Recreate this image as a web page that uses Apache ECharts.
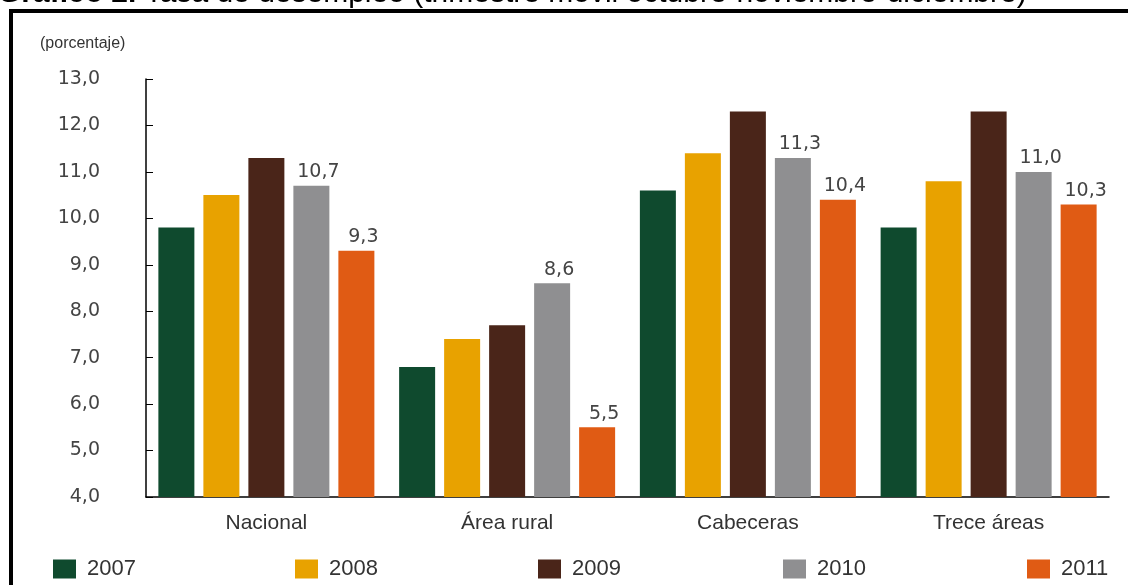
<!DOCTYPE html>
<html>
<head>
<meta charset="utf-8">
<script src="https://cdn.jsdelivr.net/npm/echarts@6/dist/echarts.min.js"></script>
<style>
html,body{margin:0;padding:0;background:#fff;}
#chart{width:1128px;height:585px;}
</style>
</head>
<body>
<div id="chart"></div>
<script>
const categories = ['Nacional', 'Área rural', 'Cabeceras', 'Trece áreas'];
const years = ['2007', '2008', '2009', '2010', '2011'];
const v2007 = [9.8, 6.8, 10.6, 9.8];
const v2008 = [10.5, 7.4, 11.4, 10.8];
const v2009 = [11.3, 7.7, 12.3, 12.3];
const v2010 = [10.7, 8.6, 11.3, 11.0];
const v2011 = [9.3, 5.5, 10.4, 10.3];
const yTicks = [4, 5, 6, 7, 8, 9, 10, 11, 12, 13];
const titleText = 'Tasa de desempleo (trimestre móvil octubre-noviembre-diciembre)';
const unitText = '(porcentaje)';

const values = [v2007, v2008, v2009, v2010, v2011];
const colors = ['#0f4a2e', '#e8a200', '#4a2519', '#8f8f91', '#e05b14'];
const labeled = [false, false, false, true, true];
const legendLeft = [48, 290, 533, 778, 1022];
const fmt = v => v.toFixed(1).replace('.', ',');

const chart = echarts.init(document.getElementById('chart'));
chart.setOption({
  animation: false,
  backgroundColor: '#fff',
  grid: {left: 146, right: 19, top: 79, bottom: 88, containLabel: false},
  legend: years.map((y, i) => ({
    top: 553, left: legendLeft[i],
    itemWidth: 23, itemHeight: 19,
    data: [y],
    icon: 'rect',
    selectedMode: false,
    textStyle: {fontFamily: 'Liberation Sans', fontSize: 22, color: '#333', padding: [0, 0, 0, 6]}
  })),
  xAxis: {
    type: 'category',
    data: categories,
    axisLine: {lineStyle: {color: '#000', width: 1.5}},
    axisTick: {inside: true, length: 5, lineStyle: {color: '#000'}},
    axisLabel: {margin: 16, fontFamily: 'Liberation Sans', fontSize: 21, color: '#333'}
  },
  yAxis: {
    type: 'value', min: yTicks[0], max: yTicks[yTicks.length - 1], interval: 1,
    splitLine: {show: false},
    axisLine: {show: true, lineStyle: {color: '#000', width: 1.5}},
    axisTick: {show: true, inside: true, length: 7, lineStyle: {color: '#000'}},
    axisLabel: {margin: 46, fontFamily: 'DejaVu Sans', fontSize: 19, color: '#444',
      formatter: v => fmt(v)}
  },
  series: years.map((y, i) => ({
    name: y,
    type: 'bar',
    data: values[i],
    barWidth: 36,
    barGap: '25%',
    itemStyle: {color: colors[i]},
    label: {
      show: labeled[i], position: 'top', offset: [7, 0], distance: 4,
      fontFamily: 'DejaVu Sans', fontSize: 19, color: '#444',
      formatter: p => fmt(p.value)
    }
  })),
  graphic: [
    {type: 'rect', shape: {x: 10, y: 9, width: 1130, height: 4}, style: {fill: '#000'}},
    {type: 'rect', shape: {x: 9, y: 9, width: 4, height: 590}, style: {fill: '#000'}},
    {type: 'text', left: 40, top: 36,
      style: {text: unitText, fontFamily: 'Liberation Sans', fontSize: 16, fill: '#333'}},
    {type: 'text', x: -2, y: -6,
      style: {
        text: '{b|Gráfico 2.} ' + titleText,
        verticalAlign: 'middle',
        fontFamily: 'Liberation Sans', fontSize: 30, fill: '#000',
        rich: {b: {fontWeight: 'bold', fontFamily: 'Liberation Sans', fontSize: 30, fill: '#000'}}
      }}
  ]
});
</script>
</body>
</html>
